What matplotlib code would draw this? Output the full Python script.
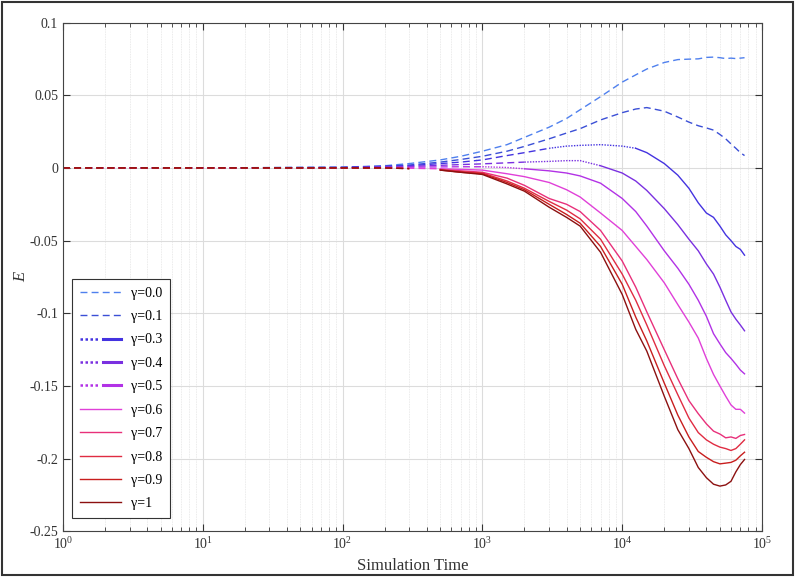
import matplotlib
matplotlib.use("Agg")
import matplotlib.pyplot as plt
import numpy as np
from matplotlib.legend_handler import HandlerTuple
from matplotlib.patches import Rectangle
from matplotlib.ticker import LogLocator, FuncFormatter, NullFormatter

plt.rcParams['font.family'] = ['Liberation Serif', 'DejaVu Serif']
plt.rcParams['mathtext.fontset'] = 'stix'

# simulation time samples
t = [1, 10, 100, 200, 300, 500, 700, 1000, 1500, 2000, 3000, 4000, 5000, 7000,
     10000, 12500, 15000, 20000, 25000, 30000, 35000, 40000, 45000, 50000,
     55000, 60000, 65000, 70000, 75000]

gammas = ["0.0", "0.1", "0.3", "0.4", "0.5", "0.6", "0.7", "0.8", "0.9", "1"]

e_00 = [0, 0, 0.0005, 0.0015, 0.003, 0.0055, 0.008, 0.0115, 0.016, 0.021, 0.028, 0.034, 0.040, 0.049,
        0.059, 0.064, 0.068, 0.0725, 0.0745, 0.0748, 0.075, 0.076, 0.0762, 0.0758,
        0.0752, 0.0755, 0.0752, 0.0755, 0.0758]
e_01 = [0, 0, 0.0004, 0.0012, 0.002, 0.004, 0.0058, 0.008, 0.0115, 0.0148, 0.020, 0.024, 0.027, 0.033,
        0.038, 0.0405, 0.0415, 0.039, 0.035, 0.0315, 0.029, 0.0275, 0.026, 0.023,
        0.020, 0.0165, 0.0135, 0.0105, 0.0085]
e_03 = [0, 0, 0.0003, 0.001, 0.0015, 0.003, 0.004, 0.0055, 0.0085, 0.0105, 0.0135, 0.015, 0.0155, 0.016,
        0.015, 0.0135, 0.0105, 0.003, -0.005, -0.014, -0.024, -0.031, -0.034, -0.040,
        -0.046, -0.050, -0.054, -0.056, -0.060]
e_04 = [0, 0, 0.0002, 0.0007, 0.001, 0.0018, 0.0023, 0.0028, 0.0035, 0.004, 0.0045, 0.005, 0.005, 0.0015,
        -0.0035, -0.009, -0.0155, -0.028, -0.039, -0.049, -0.057, -0.066, -0.073, -0.082,
        -0.091, -0.099, -0.104, -0.108, -0.112]
e_05 = [0, 0, 0.0001, 0.0003, 0.0005, 0.0007, 0.0008, 0.0008, 0.0003, -0.0006, -0.002, -0.0035, -0.0055, -0.0105,
        -0.021, -0.030, -0.040, -0.057, -0.069, -0.080, -0.091, -0.102, -0.114, -0.121,
        -0.127, -0.131, -0.135, -0.139, -0.1416]
e_06 = [0, 0, 0, 0, -0.0002, -0.0006, -0.001, -0.0015, -0.004, -0.006, -0.010, -0.015, -0.020, -0.031,
        -0.043, -0.054, -0.063, -0.079, -0.094, -0.106, -0.117, -0.131, -0.142, -0.150,
        -0.157, -0.163, -0.166, -0.166, -0.1686]
e_07 = [0, 0, 0, 0, -0.0003, -0.001, -0.002, -0.003, -0.007, -0.012, -0.021, -0.025, -0.030, -0.043,
        -0.064, -0.082, -0.099, -0.125, -0.145, -0.160, -0.169, -0.176, -0.181, -0.183,
        -0.1856, -0.185, -0.186, -0.184, -0.1833]
e_08 = [0, 0, 0, 0, -0.0004, -0.0012, -0.0025, -0.0035, -0.009, -0.014, -0.023, -0.029, -0.035, -0.049,
        -0.073, -0.091, -0.108, -0.136, -0.156, -0.172, -0.182, -0.187, -0.190, -0.192,
        -0.193, -0.1943, -0.193, -0.190, -0.187]
e_09 = [0, 0, 0, 0, -0.0005, -0.0015, -0.003, -0.004, -0.010, -0.015, -0.025, -0.032, -0.038, -0.054,
        -0.080, -0.1026, -0.119, -0.148, -0.170, -0.185, -0.195, -0.199, -0.202, -0.2035,
        -0.203, -0.2025, -0.201, -0.198, -0.1955]
e_10 = [0, 0, 0, 0, -0.0005, -0.0015, -0.003, -0.0045, -0.011, -0.016, -0.027, -0.034, -0.040, -0.058,
        -0.087, -0.111, -0.126, -0.157, -0.180, -0.193, -0.206, -0.213, -0.2175, -0.2188,
        -0.218, -0.2155, -0.209, -0.204, -0.2005]

series = [e_00, e_01, e_03, e_04, e_05, e_06, e_07, e_08, e_09, e_10]
colors = ['#4f80ee', '#3b4fd6', '#4433e0', '#7a30e0', '#b232e6',
          '#e040d8', '#e8307a', '#e02c42', '#c81e1e', '#8c1010']
# time where the line stops being dashed / stops being dotted
dash_end = [1e9, 1e9, 3000, 2000, 1000, 500, 400, 400, 400, 400]
dot_end = [1e9, 1e9, 12500, 7000, 2000, 500, 400, 400, 400, 400]

fig = plt.figure(figsize=(7.95, 5.77), dpi=100)
ax = fig.add_axes([0.0792, 0.0789, 0.8793, 0.8821])

lw = 1.0
tt = np.array(t, dtype=float)
handles = []
for y, c, d1, d2, g in zip(series, colors, dash_end, dot_end, gammas):
    y = np.array(y)
    m1 = tt <= d1
    m2 = (tt >= min(d1, tt.max())) & (tt <= d2)
    m3 = tt >= min(d2, tt.max())
    ax.plot(tt[m1], y[m1], color=c, lw=lw, ls=(0, (5, 3)))
    if d1 < 1e9 and d2 > d1:
        ax.plot(tt[m2], y[m2], color=c, lw=lw, ls=(0, (1, 1)))
    if d2 < 1e9:
        ax.plot(tt[m3], y[m3], color=c, lw=lw, ls='-')
    if d1 >= 1e9:
        h = plt.Line2D([], [], color=c, lw=lw, ls=(0, (5, 3)))
    elif d2 > d1:
        h = (plt.Line2D([], [], color=c, lw=1.8, ls=(0, (1, 1))),
             plt.Line2D([], [], color=c, lw=2.2, ls='-'))
    else:
        h = plt.Line2D([], [], color=c, lw=lw, ls='-')
    handles.append(h)


def ytick(v, p):
    if abs(v) < 1e-9:
        return '0'
    return f'{round(v, 3):g}'


ax.set_xscale('log')
ax.set_xlim(1, 1e5)
ax.set_ylim(-0.25, 0.1)
ax.set_yticks(np.arange(-0.25, 0.1001, 0.05))
ax.yaxis.set_major_formatter(FuncFormatter(ytick))
ax.xaxis.set_major_locator(LogLocator(base=10, numticks=10))
ax.xaxis.set_minor_locator(LogLocator(base=10, subs=np.arange(2, 10), numticks=20))
ax.xaxis.set_minor_formatter(NullFormatter())

ax.grid(True, which='major', color='#dcdcdc', lw=0.8)
ax.grid(True, which='minor', axis='x', color='#e4e4e4', lw=0.6, ls=(0, (1, 1)))
ax.set_axisbelow(True)
ax.tick_params(which='both', direction='in', top=True, right=True,
               colors='#333333', labelcolor='#333333', labelsize=10)
ax.tick_params(which='major', length=5)
ax.tick_params(which='minor', length=3)
for s in ax.spines.values():
    s.set_color('#444444')
    s.set_linewidth(0.8)

ax.set_xlabel('Simulation Time', fontsize=12, color='#333333', labelpad=4)
ax.set_ylabel('E', fontsize=12, style='italic', color='#333333')
ax.yaxis.set_label_coords(-0.048, 0.5)

leg = ax.legend(handles, [f'γ={g}' for g in gammas], loc='lower left',
                bbox_to_anchor=(0.013, 0.0265), borderaxespad=0, fontsize=10,
                frameon=True, fancybox=False, framealpha=1, edgecolor='#333333',
                handlelength=3.0, handletextpad=0.7, labelspacing=0.75,
                borderpad=0.55,
                handler_map={tuple: HandlerTuple(ndivide=None, pad=0.3)})
leg.get_frame().set_linewidth(0.8)

fig.patches.append(Rectangle((0.002, 0.003), 0.996, 0.994, transform=fig.transFigure,
                             fill=False, edgecolor='#333333', lw=1.5))

fig.savefig('out.png', dpi=100)
